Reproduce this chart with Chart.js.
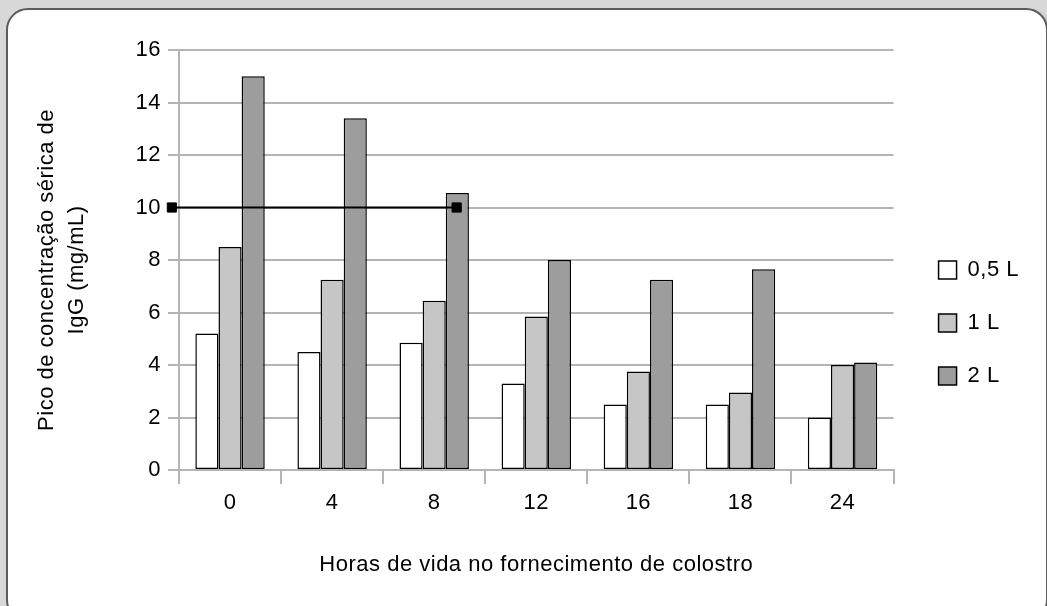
<!DOCTYPE html>
<html>
<head>
<meta charset="utf-8">
<script src="https://cdn.jsdelivr.net/npm/chart.js@4/dist/chart.umd.min.js"></script>
<style>
  html, body { margin: 0; padding: 0; background: #d8d8d8; overflow: hidden; }
  #card {
    position: absolute; left: 6px; top: 8px; width: 1038px; height: 610px;
    background: #ffffff; border: 2px solid #5c5c5c; border-radius: 22px;
    box-shadow: 2px 2px 3px rgba(0,0,0,0.25);
  }
  #wrap { position: absolute; left: 0; top: 0; width: 1047px; height: 606px; }
</style>
</head>
<body>
<div id="card"></div>
<div id="wrap"><canvas id="myChart" width="1047" height="606"></canvas></div>
<script>
const hours = ['0', '4', '8', '12', '16', '18', '24'];
const halfLitre = [5.2, 4.5, 4.85, 3.3, 2.5, 2.5, 2.0];
const oneLitre = [8.5, 7.25, 6.45, 5.85, 3.75, 2.95, 4.0];
const twoLitre = [15.0, 13.4, 10.55, 8.0, 7.25, 7.65, 4.1];
// reference line at 10 mg/mL, x in category index units
const refLineX = [-0.57, 2.22];
const refLineY = [10, 10];
const seriesNames = ['0,5 L', '1 L', '2 L'];
const yTicks = [0, 2, 4, 6, 8, 10, 12, 14, 16];

const gridGray = '#b4b4b4';
const ctx = document.getElementById('myChart').getContext('2d');

Chart.defaults.font.family = '"Liberation Sans", Arial, sans-serif';
Chart.defaults.font.size = 22;
Chart.defaults.color = '#000000';

// x is a linear axis so the reference line can sit between categories
const toPoints = (vals) => vals.map((v, i) => ({x: i, y: v}));

const barStyle = {
  borderColor: '#000000',
  borderWidth: 1.5,
  borderSkipped: false,
  categoryPercentage: 0.68,
  barPercentage: 1.0,
  order: 1
};

const spacing = {
  id: 'spacing',
  beforeUpdate(chart) { chart.ctx.letterSpacing = '0.5px'; },
  beforeDraw(chart) { chart.ctx.letterSpacing = '0.5px'; }
};

const legendShift = {
  id: 'legendShift',
  afterLayout(chart) {
    chart.legend.left += 14;
    chart.legend.right += 14;
  }
};

const myChart = new Chart(ctx, {
  type: 'bar',
  plugins: [spacing, legendShift],
  data: {
    datasets: [
      { label: seriesNames[0], data: toPoints(halfLitre), backgroundColor: '#ffffff', ...barStyle },
      { label: seriesNames[1], data: toPoints(oneLitre), backgroundColor: '#c6c6c6', ...barStyle },
      { label: seriesNames[2], data: toPoints(twoLitre), backgroundColor: '#9d9d9d', ...barStyle },
      {
        type: 'line',
        label: 'ref',
        data: refLineX.map((x, i) => ({x: x, y: refLineY[i]})),
        borderColor: '#000000',
        borderWidth: 2,
        pointStyle: 'rect',
        pointRadius: 6.5,
        pointBackgroundColor: '#000000',
        pointBorderColor: '#000000',
        pointBorderWidth: 1,
        clip: false,
        order: 0
      }
    ]
  },
  options: {
    responsive: false,
    animation: false,
    layout: { padding: { top: 50, bottom: 10, left: 0, right: 32 } },
    plugins: {
      tooltip: { enabled: false },
      legend: {
        position: 'right',
        labels: {
          boxWidth: 18,
          boxHeight: 18,
          padding: 31,
          color: '#000000',
          filter: (item) => item.text !== 'ref'
        }
      }
    },
    scales: {
      x: {
        type: 'linear',
        min: -0.5,
        max: 6.5,
        offset: false,
        afterBuildTicks: (scale) => { scale.ticks = hours.map((h, i) => ({value: i})); },
        afterFit: (scale) => { scale.height = 126; },
        grid: {
          offset: true,
          drawOnChartArea: false,
          color: gridGray,
          lineWidth: 2,
          tickLength: 14
        },
        border: { color: gridGray, width: 2 },
        ticks: { padding: 6, autoSkip: false, maxRotation: 0, callback: (v, i) => hours[i] },
        title: {
          display: true,
          text: 'Horas de vida no fornecimento de colostro',
          padding: { top: 0, bottom: 18 }
        }
      },
      y: {
        min: 0,
        max: 16,
        afterBuildTicks: (scale) => { scale.ticks = yTicks.map(v => ({value: v})); },
        afterFit: (scale) => { scale.width = 179; },
        ticks: { padding: 7 },
        grid: { color: gridGray, lineWidth: 2, tickLength: 11 },
        border: { color: gridGray, width: 2 },
        title: {
          display: true,
          text: ['Pico de concentração sérica de   ', 'IgG (mg/mL)   '],
          font: { lineHeight: 1.36 },
          padding: { top: 32, bottom: 0 }
        }
      }
    }
  }
});
</script>
</body>
</html>
